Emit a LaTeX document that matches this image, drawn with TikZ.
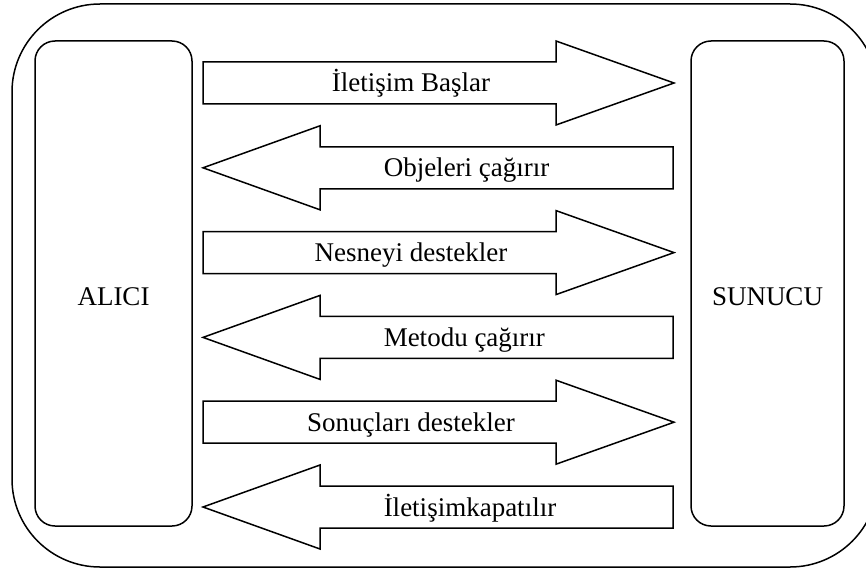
\documentclass[tikz,border=0pt]{standalone}
\usepackage{fontspec}
\setmainfont{Liberation Serif}
\begin{document}
\begin{tikzpicture}[x=1pt,y=-1pt,
  line width=1.5pt,
  lbl/.style={inner sep=0pt,font=\fontsize{27}{32}\selectfont},
  side/.style={draw,rounded corners=20pt},
  arr/.style={draw,line join=miter}]
\useasboundingbox (0,0) rectangle (866,572);
\clip (0,0) rectangle (866,572);
\draw[rounded corners=88pt] (12,4) rectangle (878,567);
\draw[side] (35,41) rectangle (192,526);
\draw[side] (691,41) rectangle (844,526);
\node[lbl,anchor=base] (alici) at (113.5,305) {ALICI};
\node[lbl,anchor=base] (sunucu) at (767.5,305) {SUNUCU};
% right arrows
\foreach \cy/\nm/\t in {83/a1/{İletişim Başlar},252.6/a3/{Nesneyi destekler},422.2/a5/{Sonuçları destekler}}{
  \draw[arr] (203,\cy-21) -- (556,\cy-21) -- (556,\cy-42) -- (674,\cy) -- (556,\cy+42) -- (556,\cy+21) -- (203,\cy+21) -- cycle;
  \node[lbl,anchor=base] (\nm) at (411,\cy+9) {\t};
}
% left arrows
\foreach \cy/\nm/\t in {167.8/a2/{Objeleri çağırır},337.4/a4/{Metodu çağırır},507/a6/{İletişimkapatılır}}{
  \draw[arr] (673,\cy-21) -- (320,\cy-21) -- (320,\cy-42) -- (203,\cy) -- (320,\cy+42) -- (320,\cy+21) -- (673,\cy+21) -- cycle;
  \node[lbl,anchor=base west] (\nm) at (383,\cy+9) {\t};
}
\end{tikzpicture}
\end{document}
